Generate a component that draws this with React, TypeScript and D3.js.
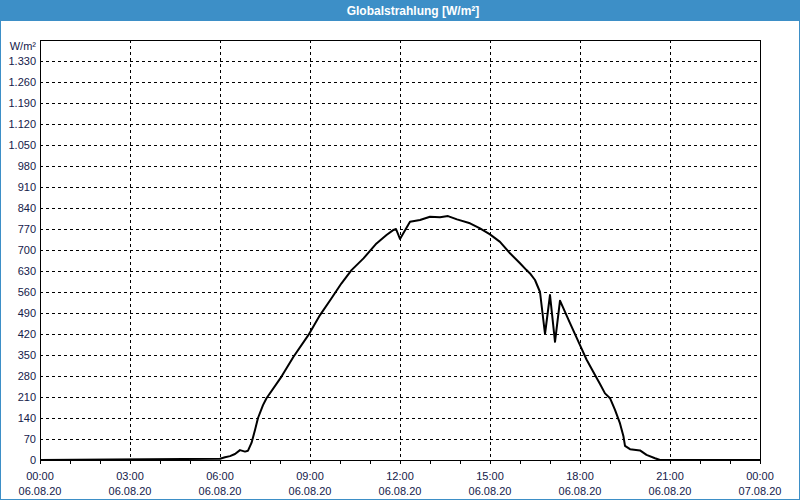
import React from "react";
import * as d3 from "d3";

const times = [
  "00:00", "06:00", "06:10", "06:20", "06:30", "06:40", "06:50", "06:56", "07:03", "07:10", "07:16", "07:26", "07:33",
  "08:03", "08:27", "08:57", "09:20", "09:43", "10:03", "10:23", "10:47", "11:13", "11:33", "11:47", "11:52",
  "12:00", "12:20", "12:40", "13:00", "13:20", "13:36", "13:54", "14:20", "14:40", "15:00", "15:20", "15:40",
  "16:00", "16:13", "16:20", "16:30", "16:40", "16:50", "17:00", "17:10", "17:20", "17:30", "17:40", "18:00",
  "18:13", "18:30", "18:40", "18:50", "19:00", "19:10", "19:20", "19:27", "19:30", "19:40", "20:00", "20:13",
  "20:30", "20:40", "24:00",
];
const values = [
  0, 4, 9, 13, 20, 33, 28, 31, 57, 100, 140, 183, 206,
  278, 344, 417, 483, 539, 589, 633, 672, 722, 750, 767, 770,
  737, 794, 800, 811, 809, 813, 802, 789, 772, 752, 727, 689,
  656, 633, 622, 600, 560, 420, 550, 394, 531, 494, 456, 383,
  335, 283, 253, 222, 206, 167, 122, 78, 47, 36, 32, 17,
  6, 0, 0,
];

const yTicks = [0, 70, 140, 210, 280, 350, 420, 490, 560, 630, 700, 770, 840, 910, 980, 1050, 1120, 1190, 1260, 1330];
const xMajorTimes = ["00:00", "03:00", "06:00", "09:00", "12:00", "15:00", "18:00", "21:00", "24:00"];
const xTimeLabels = ["00:00", "03:00", "06:00", "09:00", "12:00", "15:00", "18:00", "21:00", "00:00"];
const xDateLabels = ["06.08.20", "06.08.20", "06.08.20", "06.08.20", "06.08.20", "06.08.20", "06.08.20", "06.08.20", "07.08.20"];
const title = "Globalstrahlung [W/m²]";
const unit = "W/m²";

const toMin = (t: string) => {
  const [h, m] = t.split(":").map(Number);
  return h * 60 + m;
};

export default function App() {
  const W = 800, H = 500;
  const L = 40, R = 760, T = 40, B = 460;
  const x = d3.scaleLinear().domain([0, 1440]).range([L, R]);
  const y = d3.scaleLinear().domain([0, 1400]).range([B, T]);
  const loc = d3.formatLocale({ decimal: ",", thousands: ".", grouping: [3], currency: ["", ""] });
  const fmt = loc.format(",d");
  const data = times.map((t, i) => [toMin(t), values[i]] as [number, number]);
  const line = d3.line<[number, number]>().x((d) => x(d[0])).y((d) => y(d[1]));
  const minorTicks = d3.range(0, 1441, 60);
  const font = "'Liberation Sans', Arial, sans-serif";
  const blue = "#3d8fc7";
  const txt = "#14204a";
  return (
    <svg width={W} height={H} style={{ position: "fixed", left: 0, top: 0 }} fontFamily={font}>
      <rect x={0} y={0} width={W} height={H} fill="#ffffff" />
      <rect x={0.5} y={0.5} width={W - 1} height={H - 1} fill="none" stroke={blue} />
      <rect x={0} y={0} width={W} height={21} fill={blue} />
      <text x={413} y={15} textAnchor="middle" fill="#fff" fontSize={12} fontWeight="bold">{title}</text>

      {yTicks.filter((v) => v > 0).map((v) => (
        <line key={"gy" + v} x1={L} x2={R} y1={Math.round(y(v)) + 0.5} y2={Math.round(y(v)) + 0.5} stroke="#000" strokeDasharray="3,3" />
      ))}
      {xMajorTimes.slice(1, -1).map((t) => (
        <line key={"gx" + t} x1={Math.round(x(toMin(t))) + 0.5} x2={Math.round(x(toMin(t))) + 0.5} y1={T} y2={B} stroke="#000" strokeDasharray="3,3" />
      ))}
      {minorTicks.map((m) => (
        <line key={"mt" + m} x1={Math.round(x(m)) + 0.5} x2={Math.round(x(m)) + 0.5} y1={B} y2={B + 4} stroke="#000" />
      ))}
      <rect x={L + 0.5} y={T + 0.5} width={R - L} height={B - T} fill="none" stroke="#000" />

      <path d={line(data) || ""} fill="none" stroke="#000" strokeWidth={2} strokeLinejoin="round" />

      <text x={36} y={50} textAnchor="end" fontSize={11} fill={txt}>{unit}</text>
      {yTicks.map((v) => (
        <text key={"yl" + v} x={36} y={y(v) + 4} textAnchor="end" fontSize={11} fill={txt}>{fmt(v)}</text>
      ))}
      {xMajorTimes.map((t, i) => (
        <g key={"xl" + i}>
          <text x={x(toMin(t))} y={480} textAnchor="middle" fontSize={11} fill={txt}>{xTimeLabels[i]}</text>
          <text x={x(toMin(t))} y={495} textAnchor="middle" fontSize={11} fill={txt}>{xDateLabels[i]}</text>
        </g>
      ))}
    </svg>
  );
}
